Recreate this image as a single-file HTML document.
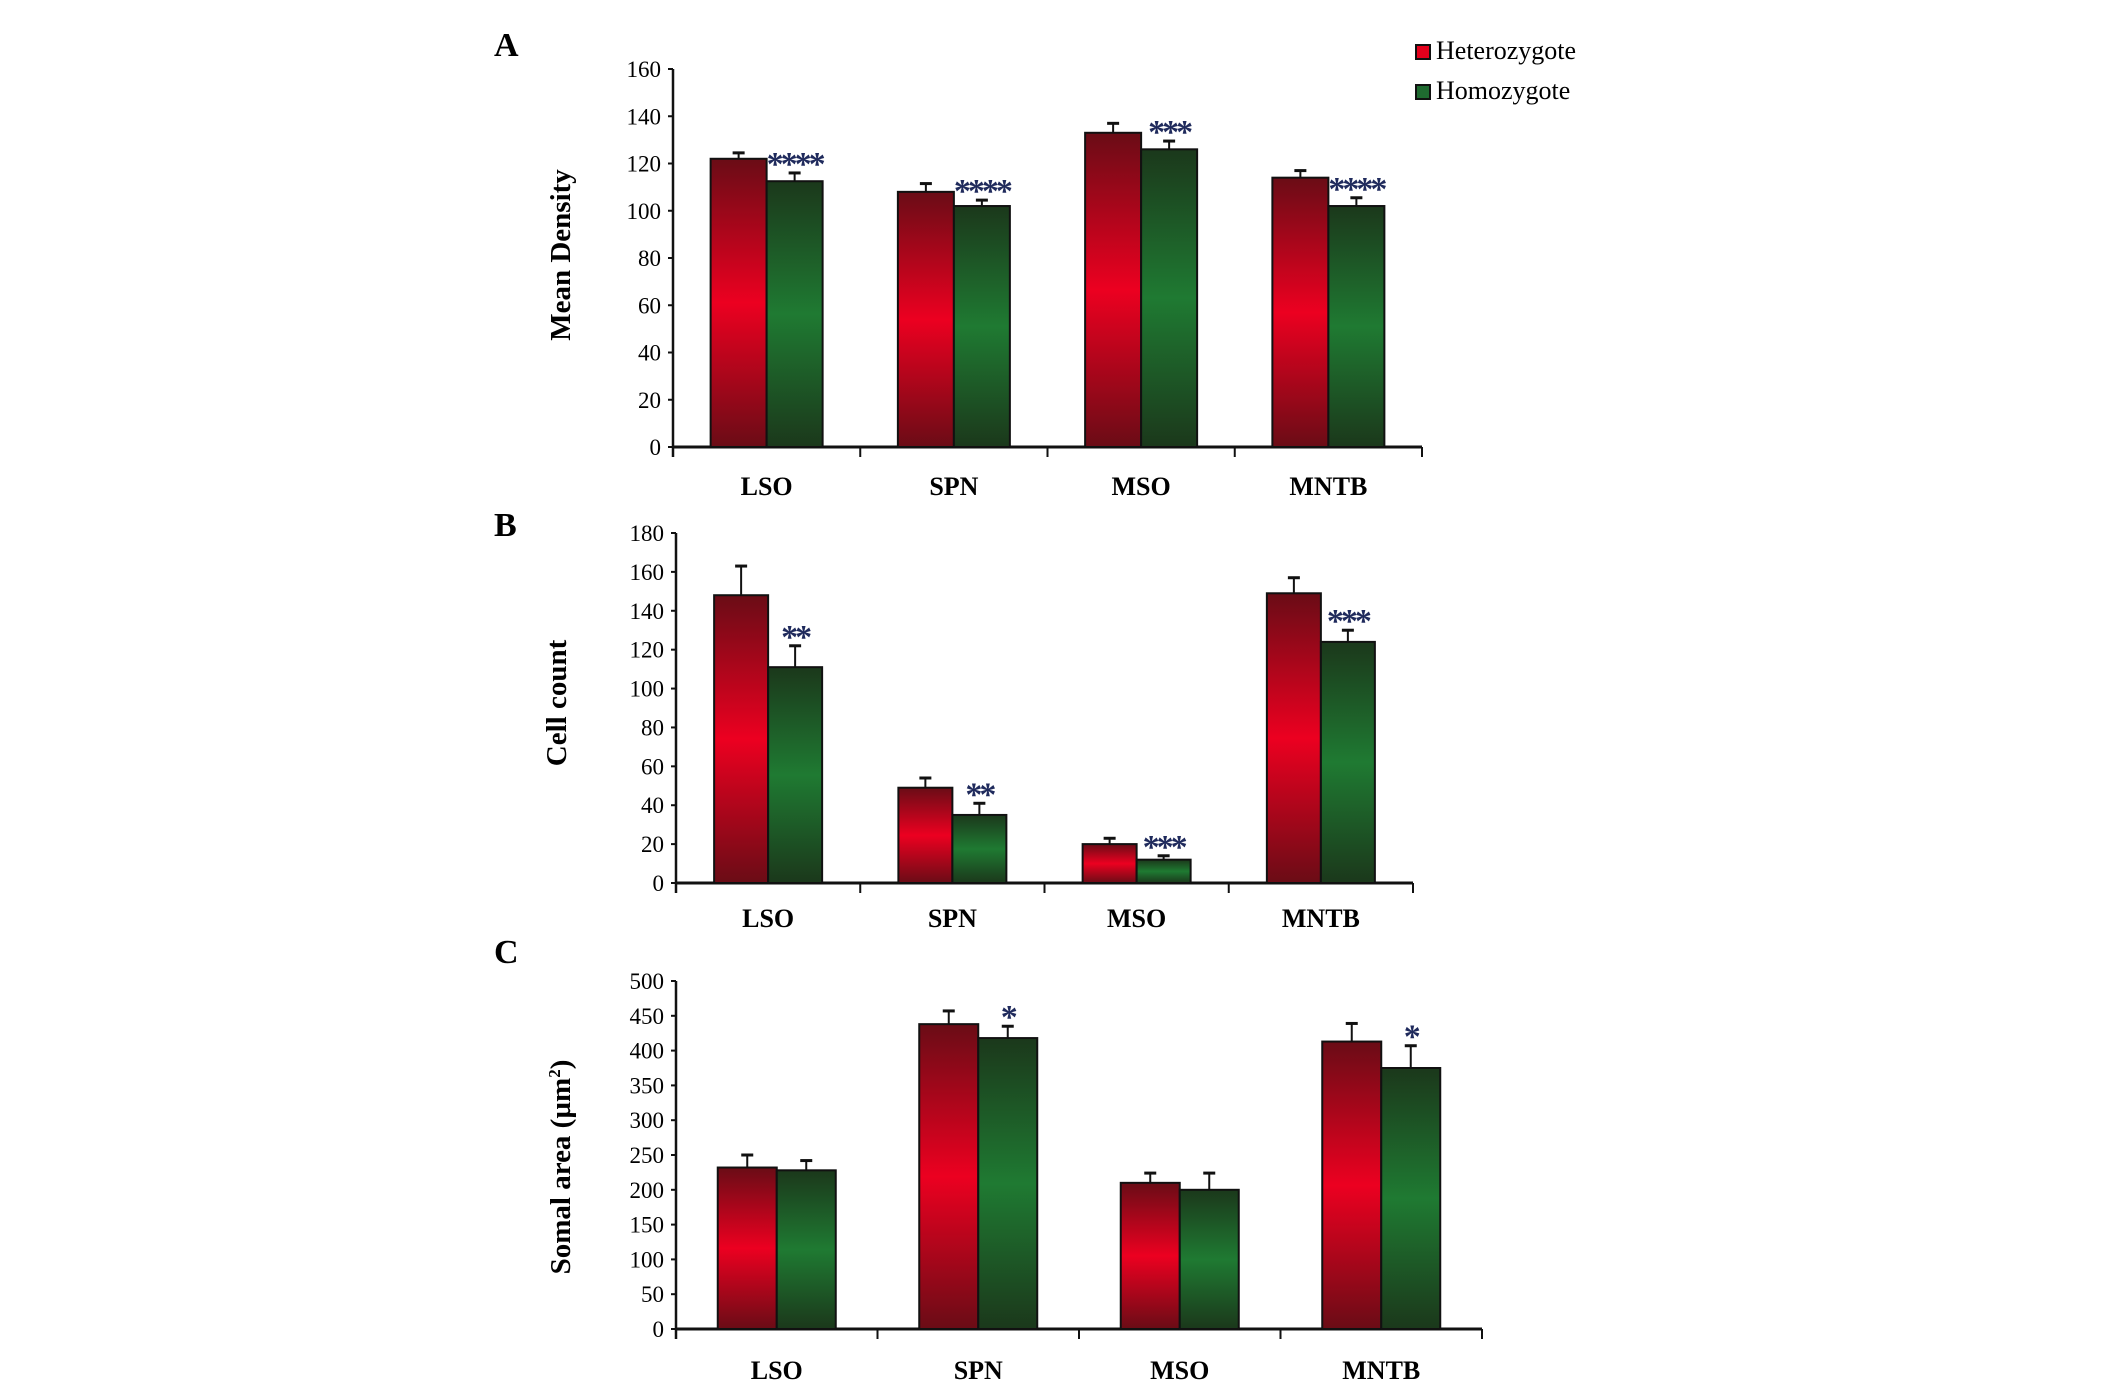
<!DOCTYPE html>
<html><head><meta charset="utf-8"><style>
html,body{margin:0;padding:0;background:#fff}
svg{display:block}
text{font-family:"Liberation Serif",serif}
</style></head><body>
<svg id="chart" width="2126" height="1393" viewBox="0 0 2126 1393" xmlns="http://www.w3.org/2000/svg">
<defs>
<linearGradient id="gRed" x1="0" y1="0" x2="0" y2="1">
<stop offset="0" stop-color="#6a0c16"/><stop offset="0.5" stop-color="#ec0020"/><stop offset="1" stop-color="#6a0c16"/></linearGradient>
<linearGradient id="gGreen" x1="0" y1="0" x2="0" y2="1">
<stop offset="0" stop-color="#1b381b"/><stop offset="0.5" stop-color="#1f7a32"/><stop offset="1" stop-color="#1b381b"/></linearGradient>
</defs>
<g>
<rect x="1416" y="45" width="14" height="14" fill="#e4001c" stroke="#111" stroke-width="2"/>
<text x="1436" y="59" font-size="26">Heterozygote</text>
<rect x="1416" y="85" width="14" height="14" fill="#1f6a30" stroke="#111" stroke-width="2"/>
<text x="1436" y="99" font-size="26">Homozygote</text>
</g>
</svg>
<script>
const categories = ["LSO","SPN","MSO","MNTB"];
const densityHet = [122,108,133,114];
const densityHetErr = [124.5,111.5,137,117];
const densityHom = [112.5,102,126,102];
const densityHomErr = [116,104.5,129.5,105.5];
const densityStars = ["****","****","***","****"];
const densityTicks = [0,20,40,60,80,100,120,140,160];

const countHet = [148,49,20,149];
const countHetErr = [163,54,23,157];
const countHom = [111,35,12,124];
const countHomErr = [122,41,14,130];
const countStars = ["**","**","***","***"];
const countTicks = [0,20,40,60,80,100,120,140,160,180];

const areaHet = [232,438,210,413];
const areaHetErr = [250,457,224,439];
const areaHom = [228,418,200,375];
const areaHomErr = [242,435,224,407];
const areaStars = ["","*","","*"];
const areaTicks = [0,50,100,150,200,250,300,350,400,450,500];

const NS="http://www.w3.org/2000/svg";
const svg=document.getElementById('chart');
function mk(tag,attrs,parent){const e=document.createElementNS(NS,tag);for(const k in attrs)e.setAttribute(k,attrs[k]);(parent||svg).appendChild(e);return e;}

function panel(p){
  const g=mk('g',{});
  
  
  const max=p.ticks[p.ticks.length-1];
  const y=v=>p.y0-(v/max)*(p.y0-p.yTop);
  const gw=(p.xEnd-p.x0)/categories.length;
  const lab=mk('text',{x:p.labX,y:p.labY,'font-size':34,'font-weight':'bold'},g);lab.textContent=p.letter;
  
  
  const t=mk('text',{x:0,y:0,'font-size':29,'font-weight':'bold','text-anchor':'middle',transform:`translate(${p.titleX},${p.titleY}) rotate(-90)`},g);
  t.textContent=p.title;
  
  
  if(p.sup){const s=mk('tspan',{'font-size':17,dy:-10},t);s.textContent='2';const s2=mk('tspan',{dy:10},t);s2.textContent=')';}
  p.ticks.forEach(v=>{
    const tl=mk('text',{x:p.x0-12,y:y(v)+8,'font-size':23,'text-anchor':'end'},g);tl.textContent=v;
    
    
    mk('line',{x1:p.x0-5,x2:p.x0,y1:y(v),y2:y(v),stroke:'#111','stroke-width':2},g);
  });
  const ax=mk('line',{x1:p.x0,x2:p.x0,y1:p.yTop,y2:p.y0+10,stroke:'#111','stroke-width':2.5},g);
  
  
  const xa=mk('line',{x1:p.x0,x2:p.xEnd,y1:p.y0,y2:p.y0,stroke:'#111','stroke-width':3},g);
  
  
  categories.forEach((c,i)=>{
    const gx=p.x0+gw*i, cx=gx+gw/2;
    mk('line',{x1:gx+gw,x2:gx+gw,y1:p.y0,y2:p.y0+10,stroke:'#111','stroke-width':2},g);
    const ct=mk('text',{x:cx,y:p.catY,'font-size':26,'font-weight':'bold','text-anchor':'middle'},g);ct.textContent=c;
    
    
    const series=[[p.het,p.hetErr,'url(#gRed)','heterozygote'],[p.hom,p.homErr,'url(#gGreen)','homozygote']];
    series.forEach((s,j)=>{
      const bx=cx-p.bw+j*p.bw, v=s[0][i], e=s[1][i];
      const r=mk('rect',{x:bx,y:y(v),width:p.bw,height:p.y0-y(v),fill:s[2],stroke:'#111','stroke-width':2},g);
      
      
      const ex=bx+p.bw/2;
      mk('line',{x1:ex,x2:ex,y1:y(v),y2:y(e),stroke:'#111','stroke-width':2},g);
      const cap=mk('line',{x1:ex-6,x2:ex+6,y1:y(e),y2:y(e),stroke:'#111','stroke-width':3},g);
      
      
    });
    if(p.stars[i]){
      const st=mk('text',{x:cx+p.bw/2,y:y(p.homErr[i])+2,'font-size':34,'font-weight':'bold','text-anchor':'middle',fill:'#1f2a5c','letter-spacing':-3},g);
      st.textContent=p.stars[i];
      
      
    }
  });
}
panel({id:'a',letter:'A',labX:494,labY:56,title:'Mean Density',titleX:570,titleY:255,
  x0:673,xEnd:1422,y0:447,yTop:69,catY:495,bw:56,ticks:densityTicks,
  het:densityHet,hetErr:densityHetErr,hom:densityHom,homErr:densityHomErr,stars:densityStars});
panel({id:'b',letter:'B',labX:494,labY:536,title:'Cell count',titleX:566,titleY:703,
  x0:676,xEnd:1413,y0:883,yTop:533,catY:927,bw:54,ticks:countTicks,
  het:countHet,hetErr:countHetErr,hom:countHom,homErr:countHomErr,stars:countStars});
panel({id:'c',letter:'C',labX:494,labY:963,title:'Somal area (µm',sup:true,titleX:570,titleY:1167,
  x0:676,xEnd:1482,y0:1329,yTop:981,catY:1379,bw:59,ticks:areaTicks,
  het:areaHet,hetErr:areaHetErr,hom:areaHom,homErr:areaHomErr,stars:areaStars});
</script>
</body></html>
